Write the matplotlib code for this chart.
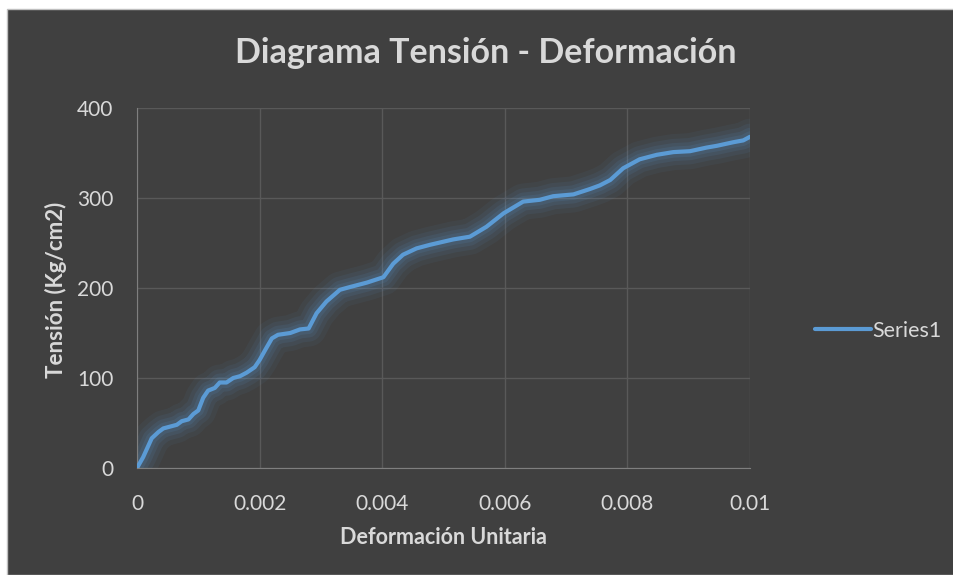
import matplotlib.pyplot as plt
from matplotlib.patches import Rectangle

# values
strain = [0, 0.0001, 0.00024, 0.00035, 0.00043, 0.00054, 0.00065, 0.00073, 0.00084, 0.00092,
          0.001, 0.00108, 0.00116, 0.00127, 0.00135, 0.00146, 0.00157, 0.00168, 0.00179, 0.00192,
          0.002, 0.00209, 0.0022, 0.0023, 0.0025, 0.00266, 0.0028, 0.00293, 0.00309, 0.00331,
          0.00347, 0.00375, 0.00402, 0.00418, 0.00434, 0.00456, 0.00478, 0.00516, 0.00543, 0.0057,
          0.00598, 0.0063, 0.00657, 0.00679, 0.00712, 0.00739, 0.00755, 0.00772, 0.00793, 0.0082,
          0.00848, 0.00875, 0.00902, 0.00929, 0.00946, 0.00973, 0.00989, 0.01]
stress = [0, 12, 33, 40, 44, 46, 48, 52, 54, 60,
          64, 78, 86, 89, 95, 95, 100, 102, 106, 112,
          120, 131, 144, 148, 150, 154, 155, 172, 185, 198,
          201, 206, 212, 227, 237, 244, 248, 254, 257, 268,
          283, 296, 298, 302, 304, 310, 314, 320, 333, 343,
          348, 351, 352, 356, 358, 362, 364, 368]
x_ticks = [0, 0.002, 0.004, 0.006, 0.008, 0.01]
x_labels = ["0", "0.002", "0.004", "0.006", "0.008", "0.01"]
y_ticks = [0, 100, 200, 300, 400]

BG = "#404040"
TXT = "#d9d9d9"
BLUE = "#5b9bd5"

plt.rcParams["font.family"] = ["Lato", "DejaVu Sans"]

fig = plt.figure(figsize=(9.54, 5.75), dpi=100, facecolor="white")
fig.patches.append(Rectangle((7 / 954, 0), 1, 1 - 9 / 575, transform=fig.transFigure,
                             facecolor=BG, edgecolor="#bfbfbf", linewidth=1, zorder=-1))

ax = fig.add_axes([137 / 954, 1 - 468 / 575, 613 / 954, 360 / 575])
ax.set_facecolor(BG)

# soft glow under the line
for w, a in [(26, 0.06), (19, 0.08), (13, 0.10), (8, 0.12)]:
    ax.plot(strain, stress, color=BLUE, lw=w, alpha=a, solid_capstyle="round",
            solid_joinstyle="round", zorder=2)
ax.plot(strain, stress, color=BLUE, lw=3, solid_capstyle="round",
        solid_joinstyle="round", label="Series1", zorder=3)

ax.set_xlim(0, 0.01)
ax.set_ylim(0, 400)
ax.set_xticks(x_ticks, x_labels)
ax.set_yticks(y_ticks)
ax.grid(True, color="#595959", lw=1)
ax.set_axisbelow(True)
ax.tick_params(length=0, labelsize=15, labelcolor=TXT)
ax.tick_params(axis="x", pad=19)
ax.tick_params(axis="y", pad=17)
for s in ["top", "right"]:
    ax.spines[s].set_visible(False)
for s in ["left", "bottom"]:
    ax.spines[s].set_color("#7f7f7f")

fig.text(486 / 954, 1 - 53 / 575, "Diagrama Tensión - Deformación", ha="center", va="center",
         fontsize=24.5, fontweight="bold", color=TXT)
fig.text(443 / 954, 1 - 538 / 575, "Deformación Unitaria", ha="center", va="center",
         fontsize=15.5, fontweight="bold", color=TXT)
fig.text(56 / 954, 1 - 290 / 575, "Tensión (Kg/cm2)", ha="center", va="center",
         rotation=90, fontsize=16, fontweight="bold", color=TXT)

leg = fig.legend(loc="center left", bbox_to_anchor=(806 / 954, 1 - 331 / 575), frameon=False,
                 fontsize=15.5, handlelength=2.6, handletextpad=0.1, borderaxespad=0)
for t in leg.get_texts():
    t.set_color(TXT)

fig.savefig("out.png", dpi=100, facecolor="white")
